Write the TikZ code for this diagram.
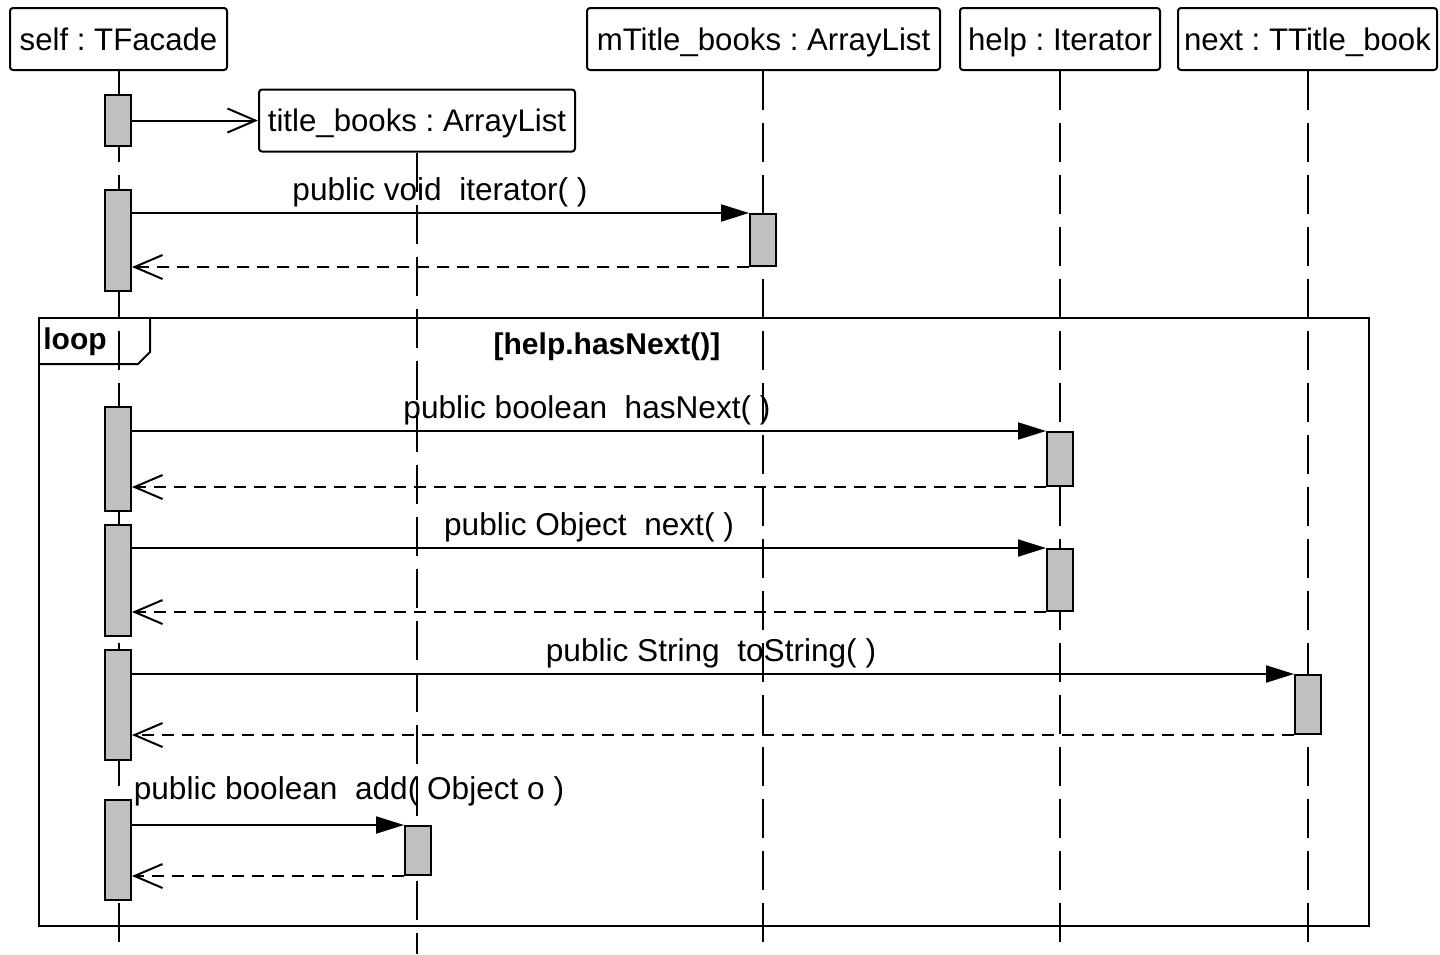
\documentclass[tikz,border=0pt]{standalone}
\usepackage{fontspec}
\setmainfont{Liberation Sans}
\usetikzlibrary{arrows.meta,calc}
\definecolor{actgray}{RGB}{192,192,192}
\frenchspacing
\begin{document}
\begin{tikzpicture}[x=0.5pt,y=-0.5pt, line width=1pt,
 head/.style={draw, rounded corners=1.5pt, minimum height=31pt, inner sep=0pt, text height=13pt, text depth=2pt, font=\fontsize{15.6}{18}\selectfont},
 act/.style={draw, fill=actgray, minimum width=13pt, inner sep=0pt},
 lifeline/.style={line width=1pt, dash pattern=on 19.5pt off 6.5pt},
 call/.style={-{Triangle[length=14pt,width=8.5pt]}},
 ret/.style={dash pattern=on 6pt off 4pt, -{Straight Barb[length=14pt,width=12pt]}},
 create/.style={-{Straight Barb[length=14pt,width=12pt]}},
 lbl/.style={font=\fontsize{15.8}{18}\selectfont, inner sep=0pt},
 frm/.style={line width=1pt},
]
\useasboundingbox (0,0) rectangle (1440,954);
% head boxes
\node[head, minimum width=108.5pt] (self) at (118.5,39) {self : TFacade};
\node[head, minimum width=158pt] (tb) at (417,120.5) {title\_books : ArrayList};
\node[head, minimum width=176.5pt] (mt) at (763.5,39) {mTitle\_books : ArrayList};
\node[head, minimum width=100pt] (help) at (1060,39) {help : Iterator};
\node[head, minimum width=129.5pt] (nxt) at (1307.5,39) {next : TTitle\_book};
\coordinate (bot) at (0,954);

% loop frame
\coordinate (fa) at (39,318);
\coordinate (fb) at (1369,926);
\draw[frm] (fa) rectangle (fb);
\coordinate (p1) at (39,364);
\coordinate (p2) at (138,364);
\coordinate (p3) at (150,352);
\coordinate (p4) at (150,318);
\draw[frm] (p1) -- (p2) -- (p3) -- (p4);
\node[lbl, font=\fontsize{15}{18}\bfseries\selectfont] (looplbl) at (75,342) {loop};
\node[lbl, font=\fontsize{15}{18}\bfseries\selectfont] (cond) at (607,347) {[help.hasNext()]};

% message labels
\node[lbl] (l1) at (440,192) {public void\ \ iterator(\ )};
\node[lbl] (l2) at (587,410) {public boolean\ \ hasNext(\ )};
\node[lbl] (l3) at (589,527) {public Object\ \ next(\ )};
\node[lbl] (l4) at (711,653) {public String\ \ toString(\ )};
\node[lbl] (l5) at (349,791) {public boolean\ \ add(\ Object o\ )};

% lifelines
\draw[lifeline] (self.south) -- (self.south |- bot);
\draw[lifeline] (tb.south) -- (tb.south |- bot);
\draw[lifeline] ([xshift=-0.5pt]mt.south) -- ([xshift=-0.5pt]mt.south |- bot);
\draw[lifeline] (help.south) -- (help.south |- bot);
\draw[lifeline] ([xshift=0.25pt]nxt.south) -- ([xshift=0.25pt]nxt.south |- bot);

% activations on self
\node[act, minimum height=25.5pt] (a1) at (118,120.5) {};
\node[act, minimum height=50.5pt] (a2) at (118,240.5) {};
\node[act, minimum height=52pt] (a3) at (118,459) {};
\node[act, minimum height=55.5pt] (a4) at (118,580.5) {};
\node[act, minimum height=55pt] (a5) at (118,705) {};
\node[act, minimum height=50pt] (a6) at (118,850) {};
% other activations
\node[act, minimum height=26pt] (m1) at (763,240) {};
\node[act, minimum height=27pt] (h1) at (1060,459) {};
\node[act, minimum height=31pt] (h2) at (1060,580) {};
\node[act, minimum height=29.5pt] (n1) at (1308,704.5) {};
\node[act, minimum height=24.5pt] (t1) at (418,850.5) {};

% messages
\draw[create] (a1.east) -- (tb.west);
\draw[call] (a2.east |- m1.north) -- (m1.north west);
\draw[ret] (m1.south west) -- (a2.east |- m1.south);
\draw[call] (a3.east |- h1.north) -- (h1.north west);
\draw[ret] (h1.south west) -- (a3.east |- h1.south);
\draw[call] (a4.east |- h2.north) -- (h2.north west);
\draw[ret] (h2.south west) -- (a4.east |- h2.south);
\draw[call] (a5.east |- n1.north) -- (n1.north west);
\draw[ret] (n1.south west) -- (a5.east |- n1.south);
\draw[call] (a6.east |- t1.north) -- (t1.north west);
\draw[ret] (t1.south west) -- (a6.east |- t1.south);
\end{tikzpicture}
\end{document}
